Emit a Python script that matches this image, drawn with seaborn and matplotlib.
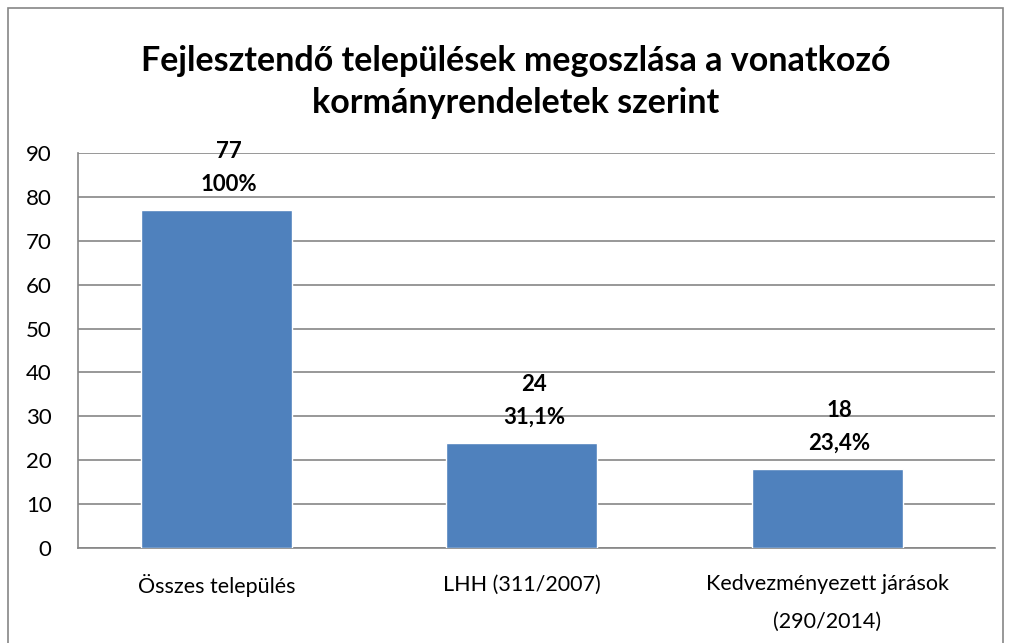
import matplotlib
matplotlib.use("Agg")
import matplotlib.pyplot as plt
import seaborn as sns
import pandas as pd
from matplotlib.patches import Rectangle

# chart data
categories = ["Összes település", "LHH (311/2007)", "Kedvezményezett járások\n(290/2014)"]
values = [77, 24, 18]
shares = ["100%", "31,1%", "23,4%"]
yticks = [0, 10, 20, 30, 40, 50, 60, 70, 80, 90]

title = "Fejlesztendő települések megoszlása a vonatkozó\nkormányrendeletek szerint"

sns.set_theme(style="white")
plt.rcParams["font.family"] = ["Lato", "DejaVu Sans"]
plt.rcParams["text.color"] = "black"

df = pd.DataFrame({"cat": categories, "val": values})

fig = plt.figure(figsize=(10.11, 6.43), dpi=100)
ax = fig.add_axes([0.0772, 0.1477, 0.9070, 0.6143])

sns.barplot(data=df, x="cat", y="val", color="#4F81BD", width=0.495,
            saturation=1, ax=ax, zorder=3)

ax.set_ylim(0, 90)
ax.set_yticks(yticks)
ax.set_xlim(-0.454, 2.55)
ax.grid(axis="y", color="#868686", linewidth=1.2, zorder=0)
for s in ["top", "right"]:
    ax.spines[s].set_visible(False)
ax.spines["left"].set_color("#868686")
ax.spines["bottom"].set_color("#868686")
ax.spines["left"].set_linewidth(1.2)
ax.spines["bottom"].set_linewidth(1.2)
ax.set_xlabel("")
ax.set_ylabel("")
ax.set_xticks(range(len(categories)), categories, linespacing=2.1)
ax.tick_params(axis="both", length=0, labelsize=15.5, colors="black")
ax.tick_params(axis="x", pad=19)
ax.tick_params(axis="y", labelsize=16, pad=19)

for i, (v, s) in enumerate(zip(values, shares)):
    ax.annotate(f"{v}\n{s}", xy=(i, v), xytext=(9, 11), textcoords="offset points",
                ha="center", va="bottom", fontsize=16, fontweight="bold",
                color="black", linespacing=1.7, annotation_clip=False, zorder=4)

fig.text(0.51, 0.873, title, ha="center", va="center", fontsize=24.5,
         fontweight="bold", color="black", linespacing=1.38)

fig.patches.append(Rectangle((0.008, -0.01), 0.984, 0.998, transform=fig.transFigure,
                             fill=False, edgecolor="#868686", linewidth=1.2))

fig.savefig("out.png", dpi=100)
